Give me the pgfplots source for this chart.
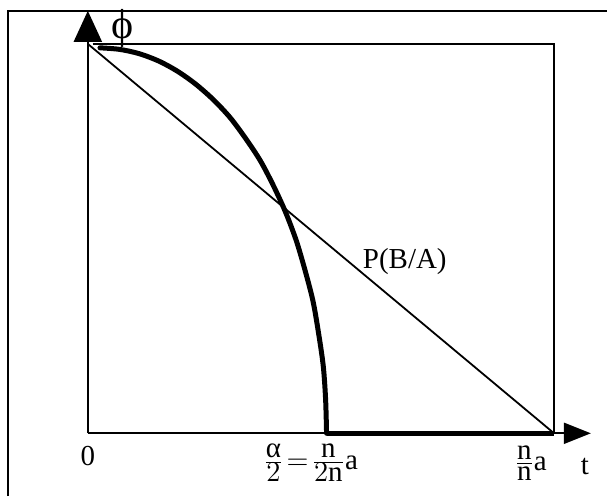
\documentclass[border=0pt]{standalone}
\usepackage{pgfplots}
\pgfplotsset{compat=1.18}
\usepackage{fontspec}
\setmainfont{Liberation Serif}
\usetikzlibrary{arrows.meta}
\tikzset{lbl/.style={font=\fontsize{14.5}{17}\selectfont, inner sep=1pt}}
\newcommand{\tf}[2]{\frac{\textstyle #1}{\textstyle #2}}
\begin{document}
\begin{tikzpicture}
\begin{axis}[
    scale only axis,
    width=304pt,
    height=248.5pt,
    xmin=-0.1884, xmax=1.1135,
    ymin=-0.1615, ymax=1.1128,
    hide axis,
    clip=false,
]
% bounding box = whole picture
\path (rel axis cs:0,0) rectangle (rel axis cs:1,1);
% outer frame (left and top)
\draw[line width=1pt] (axis cs:-0.171,-0.1615) -- (axis cs:-0.171,1.085) -- (axis cs:1.1135,1.085);
% inner box
\draw[line width=1pt] (axis cs:0.01,1) -- (axis cs:1,1) -- (axis cs:1,0);
% axes with arrows
\draw[line width=1pt,-{Triangle[length=15.5pt,width=14pt]}] (axis cs:0,0) -- (axis cs:0,1.085);
\draw[line width=1pt,-{Triangle[length=13.5pt,width=10.5pt]}] (axis cs:0,0) -- (axis cs:1.079,0);

% P(B/A) diagonal
\addplot[black, line width=0.9pt] coordinates {(0,1) (1,0)};

% thick curve
\addplot[black, line width=2.5pt, smooth, line cap=round] coordinates {
(0.026,0.990)
(0.068,0.986)
(0.110,0.975)
(0.152,0.956)
(0.192,0.930)
(0.231,0.897)
(0.269,0.857)
(0.305,0.811)
(0.338,0.758)
(0.370,0.700)
(0.398,0.636)
(0.424,0.568)
(0.447,0.495)
(0.466,0.418)
(0.483,0.339)
(0.495,0.256)
(0.505,0.172)
(0.510,0.086)
(0.512,0.000)
};
\addplot[black, line width=2.5pt] coordinates {(0.512,0) (1,0)};

% labels
\node[lbl, font=\fontsize{21}{24}\selectfont, anchor=north] at (axis cs:0.075,1.095) {ϕ};
\node[lbl] at (axis cs:0,-0.059) {0};
\node[lbl] at (axis cs:1.066,-0.085) {t};
\node[lbl, anchor=west] at (axis cs:0.585,0.441) {P(B/A)};
\node[lbl] at (axis cs:0.478,-0.076) {$\tf{\mbox{α}}{2}\!=\!\tf{\mathrm{n}}{2\mathrm{n}}\mathrm{a}$};
\node[lbl] at (axis cs:0.950,-0.076) {$\tf{\mathrm{n}}{\mathrm{n}}\mathrm{a}$};
\end{axis}
\end{tikzpicture}
\end{document}
